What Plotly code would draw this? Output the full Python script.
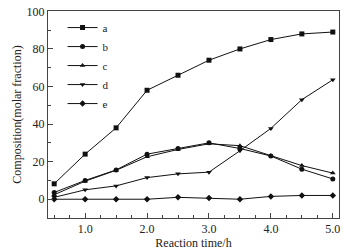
import plotly.graph_objects as go

time_h = [0.5, 1.0, 1.5, 2.0, 2.5, 3.0, 3.5, 4.0, 4.5, 5.0]
series_a = [8.2, 24, 38, 58, 66, 74, 80, 85, 88, 89]
series_b = [3.6, 10, 15.6, 24, 27, 30, 27, 23, 16, 10.8]
series_c = [2.4, 9.6, 15.4, 22.6, 26.5, 29.5, 28.5, 23.2, 17.9, 13.9]
series_d = [1.0, 5, 7.1, 11.5, 13.5, 14.4, 25.8, 37.7, 53, 63.6]
series_e = [0, 0, 0, 0, 1.0, 0.6, 0, 1.5, 2, 2]

names = ["a", "b", "c", "d", "e"]
symbols = ["square", "circle", "triangle-up", "triangle-down", "diamond"]
data = [series_a, series_b, series_c, series_d, series_e]

FONT = "Liberation Serif"
fig = go.Figure()
for nm, sym, ys in zip(names, symbols, data):
    fig.add_trace(go.Scatter(
        x=time_h, y=ys, name=nm, mode="lines+markers",
        line=dict(color="#111", width=1),
        marker=dict(symbol=sym, size=5, color="#111"),
    ))

axis_common = dict(
    showgrid=False, zeroline=False, showline=True, linecolor="#444", linewidth=1,
    mirror=True, ticks="inside", tickcolor="#444", ticklen=5, automargin=False,
    ticklabeloverflow="allow",
    tickfont=dict(family=FONT, size=12, color="#222"),
)
fig.update_xaxes(
    range=[0.4, 5.1], tick0=1.0, dtick=1.0, tickformat=".1f",
    minor=dict(ticks="inside", dtick=0.25, tick0=0.5, ticklen=3, tickcolor="#444"),
    title=dict(text="Reaction time/h", font=dict(family=FONT, size=12, color="#222"), standoff=0),
    **axis_common,
)
fig.update_yaxes(
    range=[-10, 100.2], tick0=0, dtick=20,
    minor=dict(ticks="inside", dtick=10, ticklen=3, tickcolor="#444"),
    title=dict(text="Composition(molar fraction)", font=dict(family=FONT, size=12, color="#222"), standoff=2),
    **axis_common,
)
fig.update_layout(
    width=361, height=250,
    margin=dict(l=48, r=22, t=11, b=32),
    paper_bgcolor="white", plot_bgcolor="white",
    font=dict(family=FONT, size=12, color="#222"),
    legend=dict(x=0.05, y=0.99, xanchor="left", yanchor="top",
                bgcolor="rgba(0,0,0,0)", itemwidth=30, tracegroupgap=0,
                font=dict(family=FONT, size=11)),
)
# remove the browser's default 8px body margin so the figure fills the window
fig.write_html("out.html", config={"displayModeBar": False},
               post_script="document.body.style.margin='0';")
